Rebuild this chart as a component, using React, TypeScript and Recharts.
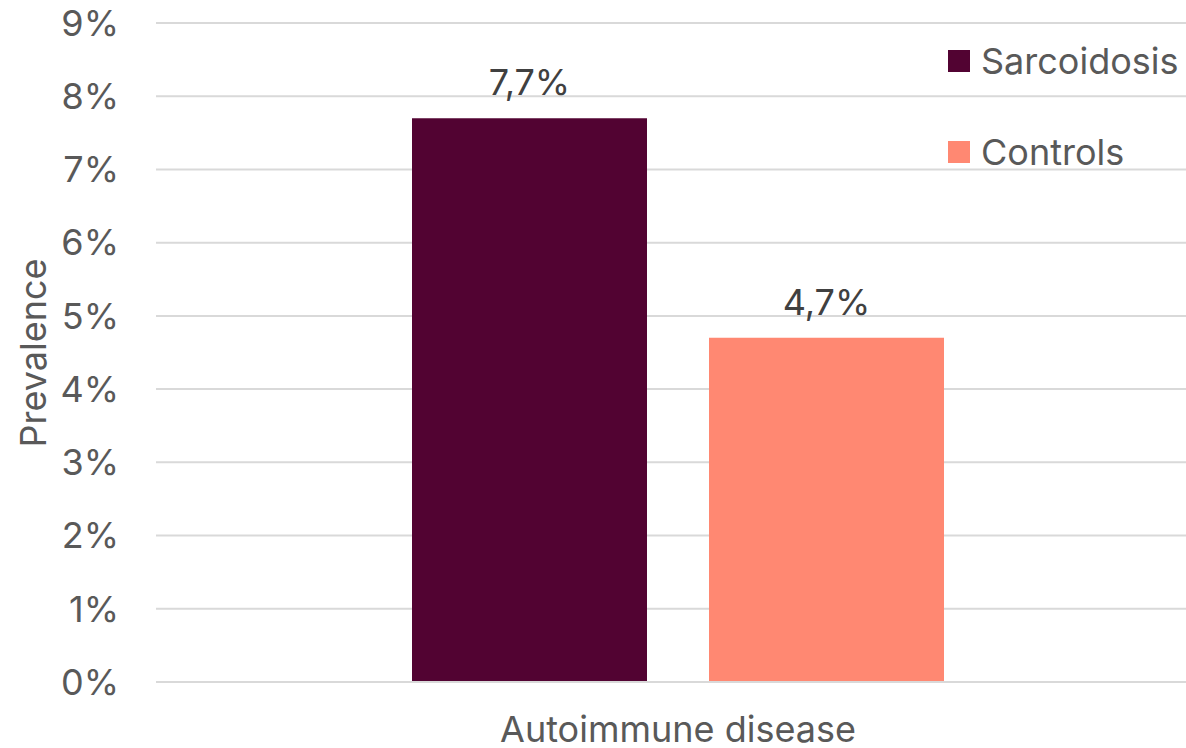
import React from 'react';
import { BarChart, Bar, XAxis, YAxis, CartesianGrid, Legend, LabelList, Label } from 'recharts';

const categories = ['Autoimmune disease'];
const sarcoidosis = [7.7];
const controls = [4.7];
const yTicks = [0, 1, 2, 3, 4, 5, 6, 7, 8, 9];

const SERIES = [
  { key: 'sarcoidosis', name: 'Sarcoidosis', color: '#520332' },
  { key: 'controls', name: 'Controls', color: '#FF8872' },
];

const data = categories.map((name, i) => ({
  name,
  sarcoidosis: sarcoidosis[i],
  controls: controls[i],
}));

const FONT = 'Inter, "Open Sans", sans-serif';
const GREY = '#595959';
const FS = 36;

const fmtPct = (v: any) => `${String(v).replace('.', ',')}%`;

function LegendBox() {
  return (
    <div style={{ fontFamily: FONT, fontSize: FS, color: GREY, whiteSpace: 'nowrap', width: 240 }}>
      {SERIES.map((s, i) => (
        <div
          key={s.key}
          style={{ display: 'flex', alignItems: 'center', height: 42, marginTop: i === 0 ? 0 : 49 }}
        >
          <span style={{ width: 22, height: 22, background: s.color, marginRight: 11, display: 'inline-block' }} />
          <span>{s.name}</span>
        </div>
      ))}
    </div>
  );
}

export default function App() {
  return (
    <div style={{ position: 'fixed', left: 0, top: 0, width: 1186, height: 748, overflow: 'hidden', background: '#fff' }}>
      <BarChart
        width={1200}
        height={748}
        data={data}
        margin={{ top: 23, right: 0, left: 0, bottom: 0 }}
        barCategoryGap="24.5%"
        barGap={62}
      >
        <CartesianGrid vertical={false} stroke="#d9d9d9" strokeWidth={2} />
        <XAxis
          dataKey="name"
          height={66}
          tickLine={false}
          axisLine={{ stroke: '#d9d9d9', strokeWidth: 2 }}
          tickSize={0}
          tickMargin={34}
          tick={{ fontSize: FS, fill: GREY, fontFamily: FONT }}
        />
        <YAxis
          width={156}
          domain={[0, 9]}
          ticks={yTicks}
          interval={0}
          tickFormatter={(v) => `${v}%`}
          axisLine={false}
          tickLine={false}
          tickSize={0}
          tickMargin={37}
          tick={{ fontSize: FS, fill: GREY, fontFamily: FONT }}
        >
          <Label
            content={() => (
              <text
                x={46}
                y={353}
                transform="rotate(-90 46 353)"
                textAnchor="middle"
                fontSize={FS}
                fill={GREY}
                fontFamily={FONT}
              >
                Prevalence
              </text>
            )}
          />
        </YAxis>
        <Legend
          verticalAlign="top"
          align="right"
          layout="vertical"
          wrapperStyle={{ left: 948, top: 40, width: 0, height: 0, overflow: 'visible' }}
          content={() => <LegendBox />}
        />
        {SERIES.map((s) => (
          <Bar key={s.key} dataKey={s.key} name={s.name} fill={s.color} barSize={235} isAnimationActive={false}>
            <LabelList
              dataKey={s.key}
              position="top"
              offset={23}
              formatter={fmtPct}
              style={{ fontSize: FS, fill: '#404040', fontFamily: FONT }}
            />
          </Bar>
        ))}
      </BarChart>
    </div>
  );
}
